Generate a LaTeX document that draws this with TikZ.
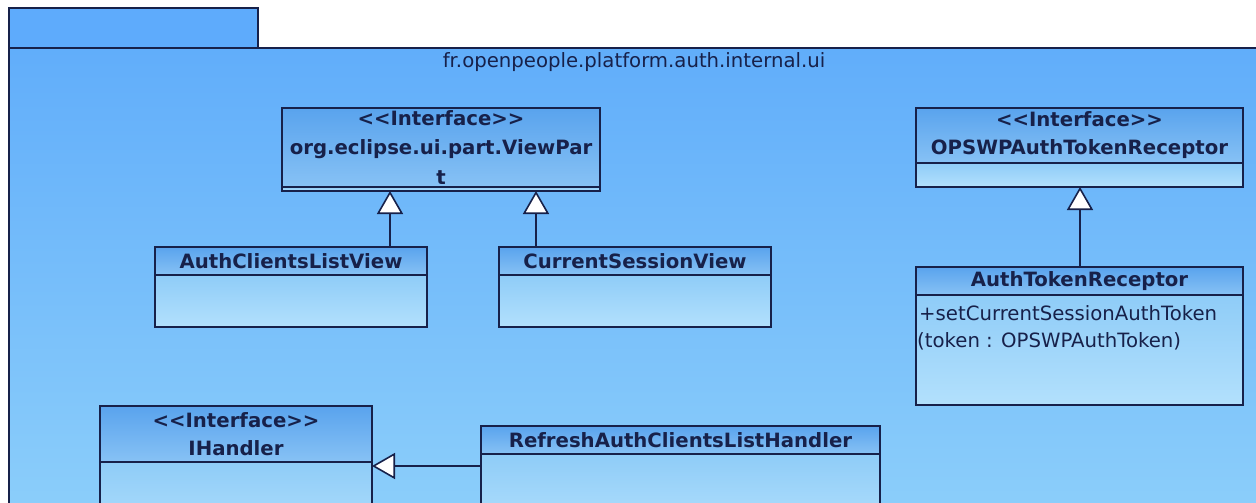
\documentclass[tikz,border=0pt]{standalone}
\usepackage{fontspec}
\setmainfont{DejaVu Sans}
\usetikzlibrary{arrows.meta,positioning}
\definecolor{rwsqua}{rgb}{0.09,0.13,0.29}
\definecolor{wsaefb}{rgb}{0.38,0.68,0.98}
\definecolor{yccefa}{rgb}{0.55,0.81,0.98}
\definecolor{vfacfc}{rgb}{0.37,0.67,0.99}
\definecolor{vaasee}{rgb}{0.35,0.64,0.93}
\definecolor{ywcsfw}{rgb}{0.53,0.76,0.96}
\definecolor{yecdfy}{rgb}{0.56,0.80,0.97}
\definecolor{bteqfc}{rgb}{0.70,0.88,0.99}
\newcommand{\iface}{<{}<Interface>{}>}

\begin{document}
\begin{tikzpicture}[x=1pt,y=-1pt,line join=miter,
	hdr/.style={draw=rwsqua,line width=1.6pt,top color=vaasee,bottom color=ywcsfw,inner sep=0pt,outer sep=0pt,text=rwsqua,font=\bfseries\fontsize{19.7}{28}\selectfont,align=center,anchor=north west},
	cmp/.style={draw=rwsqua,line width=1.6pt,top color=yecdfy,bottom color=bteqfc,inner sep=0pt,outer sep=0pt},
	optext/.style={inner sep=0pt,text=rwsqua,font=\fontsize{19.7}{27}\selectfont,anchor=base west},
	realize/.style={draw=rwsqua,line width=1.6pt,-{Triangle[width=26pt,length=23pt,fill=white]}}]
	\useasboundingbox (0,0) rectangle (1256,503);
	\clip (0,0) rectangle (1256,503);
	\fill[white] (0,0) rectangle (1256,503);
	% package frame
	\draw[draw=rwsqua,line width=1.6pt,fill=vfacfc] (9,8) rectangle (258,48);
	\shade[top color=wsaefb,bottom color=yccefa] (9,48) rectangle (1270,520);
	\draw[draw=rwsqua,line width=1.6pt] (9,520) -- (9,48) -- (1270,48);
	\node[inner sep=0pt,text=rwsqua,font=\fontsize{19.7}{24}\selectfont] (pkg) at (634,62) {fr.openpeople.platform.auth.internal.ui};
	% classes
	\node[hdr,minimum width=318pt,minimum height=79pt,font=\bfseries\fontsize{19.7}{29.5}\selectfont] (vph) at (282,108) {\iface\\org.eclipse.ui.part.ViewPar\\t};
	\node[cmp,minimum width=318pt,minimum height=4pt,below=0pt of vph] (vpb) {};
	\node[hdr,minimum width=272pt,minimum height=28pt] (aclh) at (155,247) {AuthClientsListView};
	\node[cmp,minimum width=272pt,minimum height=52pt,below=0pt of aclh] (aclb) {};
	\node[hdr,minimum width=272pt,minimum height=28pt] (csvh) at (499,247) {CurrentSessionView};
	\node[cmp,minimum width=272pt,minimum height=52pt,below=0pt of csvh] (csvb) {};
	\node[hdr,minimum width=327pt,minimum height=55pt] (orh) at (916,108) {\iface\\OPSWPAuthTokenReceptor};
	\node[cmp,minimum width=327pt,minimum height=24pt,below=0pt of orh] (orb) {};
	\node[hdr,minimum width=327pt,minimum height=28pt] (atrh) at (916,267) {AuthTokenReceptor};
	\node[cmp,minimum width=327pt,minimum height=110pt,below=0pt of atrh] (atrb) {};
		\node[optext] (op1) at (919,320) {+setCurrentSessionAuthToken};
		\node[optext] (op2) at (917,347) {(token : OPSWPAuthToken)};
	\node[hdr,minimum width=272pt,minimum height=56pt] (ihh) at (100,406) {\iface\\IHandler};
	\node[cmp,minimum width=272pt,minimum height=80pt,below=0pt of ihh] (ihb) {};
	\node[hdr,minimum width=399pt,minimum height=28pt] (rahh) at (481,426) {RefreshAuthClientsListHandler};
	\node[cmp,minimum width=399pt,minimum height=80pt,below=0pt of rahh] (rahb) {};
	% generalisations
	\draw[realize] (aclh.north -| 390,0) -- (vpb.south -| 390,0);
	\draw[realize] (csvh.north -| 536,0) -- (vpb.south -| 536,0);
	\draw[realize] (atrh.north -| 1080,0) -- (orb.south -| 1080,0);
	\draw[realize] (rahb.west |- 0,466) -- (ihb.east |- 0,466);
\end{tikzpicture}
\end{document}
